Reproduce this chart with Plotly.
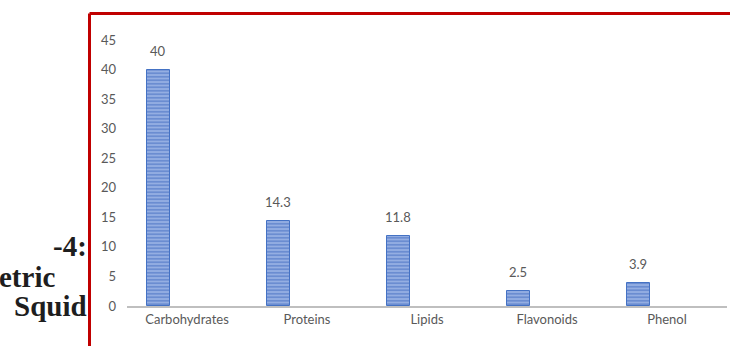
import plotly.graph_objects as go

categories = ["Carbohydrates", "Proteins", "Lipids", "Flavonoids", "Phenol"]
values = [40, 14.3, 11.8, 2.5, 3.9]
value_labels = ["40", "14.3", "11.8", "2.5", "3.9"]
y_ticks = [0, 5, 10, 15, 20, 25, 30, 35, 40, 45]

W, H = 730, 346
ML, MR, MT, MB = 127, 3, 40, 40
PW, PH = W - ML - MR, H - MT - MB

BAR_WIDTH = 0.19
BAR_OFFSET = -0.335


def px_x(x):
    return (x - ML) / PW


def px_y(y):
    return (H - MB - y) / PH


fig = go.Figure()
fig.add_trace(go.Bar(
    x=categories,
    y=values,
    width=BAR_WIDTH,
    offset=BAR_OFFSET,
    marker=dict(
        color="#6F93D6",
        line=dict(color="#4472C4", width=1),
        pattern=dict(shape="-", fgcolor="#3A64BC", bgcolor="#9DB6E6", size=3.5, solidity=0.6),
    ),
    hoverinfo="skip",
))

# value labels above each bar
for i, (v, lab) in enumerate(zip(values, value_labels)):
    fig.add_annotation(
        x=i + BAR_OFFSET + BAR_WIDTH / 2, y=v, text=lab,
        xref="x", yref="y", showarrow=False,
        yanchor="bottom", yshift=9,
        font=dict(family="Lato", size=13, color="#595959"),
    )

fig.update_layout(
    width=W, height=H,
    margin=dict(l=ML, r=MR, t=MT, b=MB),
    paper_bgcolor="white", plot_bgcolor="white",
    showlegend=False,
    bargap=0,
    font=dict(family="Lato", size=13, color="#595959"),
    xaxis=dict(
        showgrid=False, zeroline=False,
        showline=True, linecolor="#BFBFBF", linewidth=2,
        ticks="", tickfont=dict(family="Lato", size=13, color="#595959"),
        range=[-0.5, 4.5],
    ),
    yaxis=dict(
        range=[0, 45], tickvals=y_ticks,
        showgrid=False, zeroline=False, showline=False,
        ticks="", ticklabelstandoff=10,
        tickfont=dict(family="Lato", size=13, color="#595959"),
    ),
)

# red frame around the chart
frame = dict(type="line", xref="paper", yref="paper", line=dict(color="#C00000", width=3))
fig.add_shape(**frame, x0=px_x(89.5), x1=px_x(735), y0=px_y(13.5), y1=px_y(13.5))
fig.add_shape(**frame, x0=px_x(89.5), x1=px_x(89.5), y0=px_y(13.5), y1=px_y(350))

# surrounding document text
serif = dict(family="Liberation Serif", size=29, color="#1E1E1E")
fig.add_annotation(text="<b>-4:</b>", xref="paper", yref="paper", x=px_x(89), y=px_y(246),
                   xanchor="right", yanchor="middle", showarrow=False, font=serif)
fig.add_annotation(text="<b>etric</b>", xref="paper", yref="paper", x=px_x(-3), y=px_y(277),
                   xanchor="left", yanchor="middle", showarrow=False, font=serif)
fig.add_annotation(text="<b>Squid</b>", xref="paper", yref="paper", x=px_x(89), y=px_y(306),
                   xanchor="right", yanchor="middle", showarrow=False, font=serif)

fig.write_html("out.html")
